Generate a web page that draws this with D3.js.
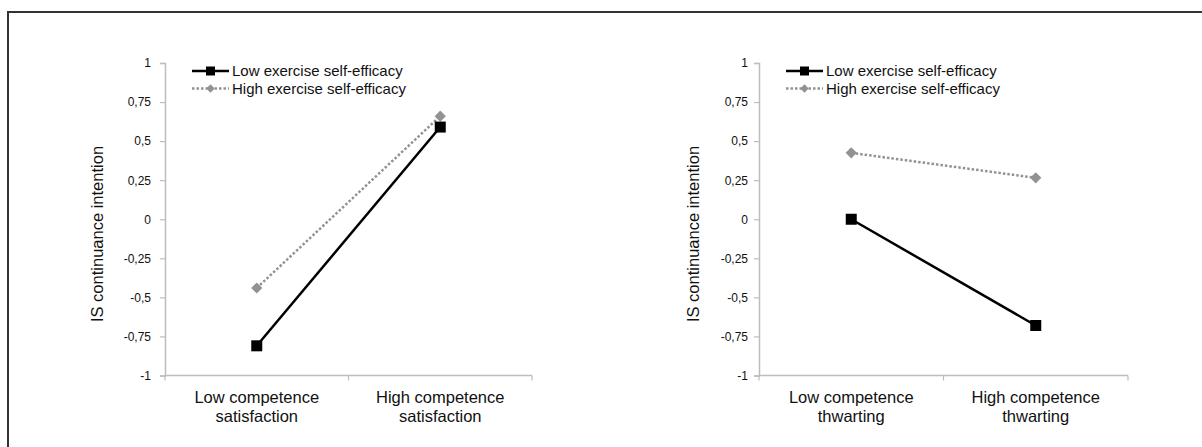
<!DOCTYPE html>
<html>
<head>
<meta charset="utf-8">
<script src="https://cdn.jsdelivr.net/npm/d3@7"></script>
<style>
  body { margin: 0; background: #fff; }
  svg { display: block; font-family: "Liberation Sans", Arial, sans-serif; }
</style>
</head>
<body>
<svg id="chart"></svg>
<script>
// values
let seriesNames = ['Low exercise self-efficacy', 'High exercise self-efficacy']
let leftCategories = [['Low competence', 'satisfaction'], ['High competence', 'satisfaction']]
let rightCategories = [['Low competence', 'thwarting'], ['High competence', 'thwarting']]
let leftLowSE = [-0.81, 0.59]
let leftHighSE = [-0.44, 0.66]
let rightLowSE = [0.0, -0.68]
let rightHighSE = [0.425, 0.265]
let yTicks = [-1, -0.75, -0.5, -0.25, 0, 0.25, 0.5, 0.75, 1]
let yTickLabels = ['-1', '-0,75', '-0,5', '-0,25', '0', '0,25', '0,5', '0,75', '1']
let yTitle = 'IS continuance intention'

let width = 1202
let height = 447
let svg = d3.select('#chart').attr('width', width).attr('height', height)

// outer frame, runs off the right and bottom edge
svg.append('rect')
    .attr('x', 8).attr('y', 12)
    .attr('width', 1210).attr('height', 450)
    .attr('fill', 'none').attr('stroke', '#333').attr('stroke-width', 2)

let yScale = d3.scaleLinear().domain([-1, 1]).range([375.5, 63])

function drawPanel(x0, x1, cats, lowVals, highVals, titleX, tickPad){
    let names = cats.map(c => c.join(' '))
    let xScale = d3.scaleBand().domain(names).range([x0, x1]).padding(0)
    let cx = d => xScale(d) + xScale.bandwidth() / 2
    let g = svg.append('g')

    // y axis
    let yAxis = d3.axisLeft(yScale).tickValues(yTicks).tickSize(5).tickPadding(tickPad)
        .tickFormat((d, i) => yTickLabels[i])
    let ya = g.append('g').attr('transform', 'translate(' + x0 + ',0)').call(yAxis)
    ya.select('.domain').attr('stroke', '#bdbdbd').attr('stroke-width', 1.5)
    ya.selectAll('.tick line').attr('stroke', '#bdbdbd').attr('stroke-width', 1.2)
    ya.selectAll('.tick text').attr('fill', '#111').style('font-size', '12px')
        .style('font-family', '"Liberation Sans", Arial, sans-serif')

    // x axis
    let xa = g.append('g').attr('transform', 'translate(0,' + yScale(-1) + ')')
    xa.append('line').attr('x1', x0).attr('x2', x1).attr('y1', 0).attr('y2', 0)
        .attr('stroke', '#bdbdbd').attr('stroke-width', 1.5)
    let bounds = names.map(n => xScale(n)).concat([x1])
    xa.selectAll('line.bt').data(bounds).enter().append('line').attr('class', 'bt')
        .attr('x1', d => d).attr('x2', d => d).attr('y1', 0).attr('y2', 5)
        .attr('stroke', '#bdbdbd').attr('stroke-width', 1.2)
    let labels = xa.selectAll('text.cat').data(cats).enter().append('text').attr('class', 'cat')
        .attr('x', (d, i) => cx(names[i]))
        .attr('text-anchor', 'middle')
        .style('font-size', '16.5px').attr('fill', '#111')
    labels.selectAll('tspan').data(d => d).enter().append('tspan')
        .attr('x', function(){ return d3.select(this.parentNode).attr('x') })
        .attr('y', (d, i) => 27 + i * 19)
        .text(d => d)

    // y title
    g.append('text')
        .attr('transform', 'translate(' + titleX + ',' + 234 + ') rotate(-90)')
        .attr('text-anchor', 'middle').attr('dy', '0.35em')
        .style('font-size', '16.5px').attr('fill', '#111')
        .text(yTitle)

    // lines
    let line = d3.line().x(d => cx(d.c)).y(d => yScale(d.v))
    let high = names.map((c, i) => ({c: c, v: highVals[i]}))
    let low = names.map((c, i) => ({c: c, v: lowVals[i]}))
    g.append('path').datum(high).attr('d', line).attr('fill', 'none')
        .attr('stroke', '#929292').attr('stroke-width', 2.5).attr('stroke-dasharray', '2.5,2')
    g.append('path').datum(low).attr('d', line).attr('fill', 'none')
        .attr('stroke', '#000').attr('stroke-width', 2.5)
    g.selectAll('path.dia').data(high).enter().append('path').attr('class', 'dia')
        .attr('d', d3.symbol().type(d3.symbolDiamond2).size(80))
        .attr('transform', d => 'translate(' + cx(d.c) + ',' + yScale(d.v) + ')')
        .attr('fill', '#929292')
    g.selectAll('rect.sq').data(low).enter().append('rect').attr('class', 'sq')
        .attr('x', d => cx(d.c) - 5.5).attr('y', d => yScale(d.v) - 5.5)
        .attr('width', 11).attr('height', 11).attr('fill', '#000')

    // legend
    let lx = x0 + 27
    let rows = [71, 88.5]
    let lg = g.append('g')
    lg.append('line').attr('x1', lx).attr('x2', lx + 37).attr('y1', rows[0]).attr('y2', rows[0])
        .attr('stroke', '#000').attr('stroke-width', 2.5)
    lg.append('rect').attr('x', lx + 14).attr('y', rows[0] - 4.5).attr('width', 9).attr('height', 9)
        .attr('fill', '#000')
    lg.append('line').attr('x1', lx).attr('x2', lx + 37).attr('y1', rows[1]).attr('y2', rows[1])
        .attr('stroke', '#929292').attr('stroke-width', 2.5).attr('stroke-dasharray', '2.5,2')
    lg.append('path').attr('d', d3.symbol().type(d3.symbolDiamond2).size(45))
        .attr('transform', 'translate(' + (lx + 18.5) + ',' + rows[1] + ')').attr('fill', '#929292')
    lg.selectAll('text').data(seriesNames).enter().append('text')
        .attr('x', lx + 40).attr('y', (d, i) => rows[i]).attr('dy', '0.35em')
        .style('font-size', '15px').attr('fill', '#111')
        .text(d => d)
}

drawPanel(165, 532, leftCategories, leftLowSE, leftHighSE, 97, 9)
drawPanel(759, 1128, rightCategories, rightLowSE, rightHighSE, 693, 6)
</script>
</body>
</html>
